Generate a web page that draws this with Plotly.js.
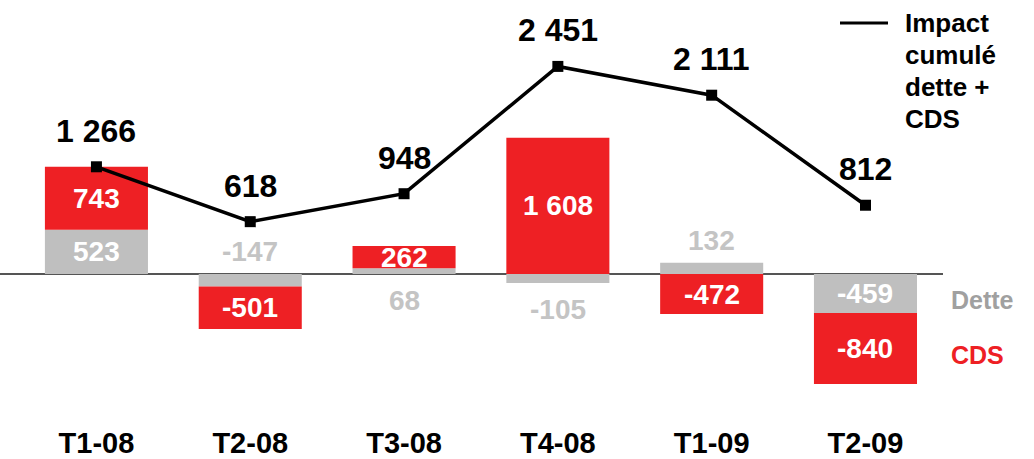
<!DOCTYPE html>
<html>
<head>
<meta charset="utf-8">
<script src="https://cdn.plot.ly/plotly-3.0.1.min.js"></script>
<style>html,body{margin:0;padding:0;background:#fff;}#chart{width:1034px;height:459px;}</style>
</head>
<body>
<div id="chart"></div>
<script>
const categories = ['T1-08','T2-08','T3-08','T4-08','T1-09','T2-09'];
const dette = [523, -147, 68, -105, 132, -459];
const cds = [743, -501, 262, 1608, -472, -840];
const cumul = [1266, 618, 948, 2451, 2111, 812];
const legendLines = ['Impact', 'cumulé', 'dette +', 'CDS'];

const RED = '#EE2024';
const GREY = '#BFBFBF';
const FONT = 'Liberation Sans, Arial, sans-serif';

function fmt(v) {
  const s = Math.abs(v).toString().replace(/\B(?=(\d{3})+(?!\d))/g, ' ');
  return (v < 0 ? '-' : '') + s;
}

const traces = [
  {type: 'bar', name: 'Dette', x: categories, y: dette, marker: {color: GREY, line: {width: 0}}, hoverinfo: 'x+y', showlegend: false},
  {type: 'bar', name: 'CDS', x: categories, y: cds, marker: {color: RED, line: {width: 0}}, hoverinfo: 'x+y', showlegend: false},
  {type: 'scatter', mode: 'lines+markers', name: 'Impact cumulé dette + CDS', x: categories, y: cumul,
   line: {color: '#000', width: 3.5}, marker: {symbol: 'square', size: 11, color: '#000'}, cliponaxis: false, showlegend: false}
];

const annotations = [];
const big = {family: FONT, size: 32, color: '#000', weight: 'bold'};
const inFont = {family: FONT, size: 28, color: '#fff', weight: 'bold'};
const outFont = {family: FONT, size: 28, color: '#C4C4C4', weight: 'bold'};

categories.forEach((c, i) => {
  annotations.push({x: c, y: cumul[i], xref: 'x', yref: 'y', text: fmt(cumul[i]), showarrow: false, yanchor: 'middle', yshift: 36, font: big});
  const d = dette[i], k = cds[i];
  // Dette segment
  if (Math.abs(d) >= 300) {
    annotations.push({x: c, y: d / 2, xref: 'x', yref: 'y', text: fmt(d), showarrow: false, font: inFont});
  } else if (k < 0) {
    annotations.push({x: c, y: Math.max(d, 0), xref: 'x', yref: 'y', text: fmt(d), showarrow: false, yanchor: 'bottom', yshift: 5, font: outFont});
  } else {
    annotations.push({x: c, y: Math.min(d, 0), xref: 'x', yref: 'y', text: fmt(d), showarrow: false, yanchor: 'top', yshift: -9, font: outFont});
  }
  // CDS segment
  const base = k >= 0 ? Math.max(d, 0) : Math.min(d, 0);
  annotations.push({x: c, y: base + k / 2, xref: 'x', yref: 'y', text: fmt(k), showarrow: false, font: inFont});
});

legendLines.forEach((t, i) => {
  annotations.push({x: 903, y: 23 + i * 32, xref: 'paper', yref: 'paper', text: t, showarrow: false,
    xanchor: 'left', yanchor: 'middle', font: {family: FONT, size: 26, color: '#000', weight: 'bold'}});
});
annotations.push({x: 949, y: 300, xref: 'paper', yref: 'paper', text: 'Dette', showarrow: false, xanchor: 'left', yanchor: 'middle',
  font: {family: FONT, size: 25, color: '#A0A0A0', weight: 'bold'}});
annotations.push({x: 949, y: 355, xref: 'paper', yref: 'paper', text: 'CDS', showarrow: false, xanchor: 'left', yanchor: 'middle',
  font: {family: FONT, size: 25, color: RED, weight: 'bold'}});

// convert pixel-based paper positions for legend/labels
const plotW = 943, plotH = 423;
annotations.forEach(a => {
  if (a.xref === 'paper') { a.x = a.x / plotW; a.y = 1 - a.y / plotH; }
});

const layout = {
  width: 1034, height: 459,
  margin: {l: 0, r: 91, t: 0, b: 36},
  paper_bgcolor: '#fff', plot_bgcolor: '#fff',
  barmode: 'relative', bargap: 0.33,
  showlegend: false,
  xaxis: {type: 'category', range: [-0.627, 5.504], showgrid: false, zeroline: false, showline: false, ticks: '',
    tickfont: {family: FONT, size: 29, color: '#000', weight: 'bold'}, fixedrange: true},
  yaxis: {range: [-1759, 3235], showgrid: false, showticklabels: false, ticks: '', showline: false,
    zeroline: true, zerolinecolor: '#555', zerolinewidth: 1.5, fixedrange: true},
  shapes: [{type: 'line', xref: 'paper', yref: 'paper', x0: 840 / plotW, x1: 888 / plotW, y0: 1 - 23 / plotH, y1: 1 - 23 / plotH,
    line: {color: '#000', width: 3}}],
  annotations: annotations
};

Plotly.newPlot('chart', traces, layout, {displayModeBar: false, staticPlot: true});
</script>
</body>
</html>
